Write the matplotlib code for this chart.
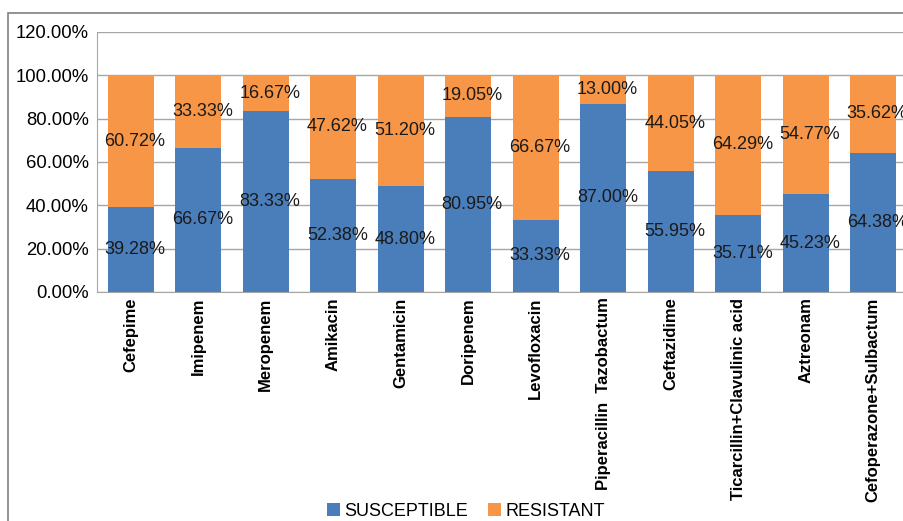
import numpy as np
import matplotlib
matplotlib.use('Agg')
from matplotlib import pyplot as plt
from matplotlib.patches import Rectangle

plt.rcParams['font.family'] = ['Liberation Sans', 'DejaVu Sans']

drugs = ['Cefepime', 'Imipenem', 'Meropenem', 'Amikacin', 'Gentamicin',
         'Doripenem', 'Levofloxacin', 'Piperacillin  Tazobactum', 'Ceftazidime',
         'Ticarcillin+Clavulinic acid', 'Aztreonam', 'Cefoperazone+Sulbactum']
susceptible = [39.28, 66.67, 83.33, 52.38, 48.80, 80.95, 33.33, 87.00, 55.95, 35.71, 45.23, 64.38]
resistant = [60.72, 33.33, 16.67, 47.62, 51.20, 19.05, 66.67, 13.00, 44.05, 64.29, 54.77, 35.62]

blue = '#4a7ebb'
orange = '#f79646'

W, H = 904, 521
fig = plt.figure(figsize=(W/100, H/100), dpi=100)

# outer chart border (runs off the right and bottom)
fig.patches.append(Rectangle((8/W, -0.1), 1.2, 1 - 13/H + 0.1, transform=fig.transFigure,
                             fill=False, edgecolor='#808080', linewidth=1.2))

ax = fig.add_axes([97/W, 1 - 292/H, 810/W, 260/H])
x = np.arange(len(drugs))
b1 = ax.bar(x, susceptible, width=0.68, color=blue, label='SUSCEPTIBLE', zorder=3)
b2 = ax.bar(x, resistant, width=0.68, bottom=susceptible, color=orange, label='RESISTANT', zorder=3)

for i in range(len(drugs)):
    ax.text(x[i] + 0.06, susceptible[i] / 2, '%.2f%%' % susceptible[i],
            ha='center', va='center', fontsize=13, color='#1a1a1a', zorder=4)
    ax.text(x[i] + 0.06, susceptible[i] + resistant[i] / 2, '%.2f%%' % resistant[i],
            ha='center', va='center', fontsize=13, color='#1a1a1a', zorder=4)

ax.set_xlim(-0.5, len(drugs) - 0.5)
ax.set_ylim(0, 120)
ax.set_yticks(np.arange(0, 121, 20))
ax.set_yticklabels(['%.2f%%' % v for v in np.arange(0, 121, 20)], fontsize=13.3)
ax.yaxis.grid(True, color='#a6a6a6', linewidth=1, zorder=0)
ax.set_xticks(x)
ax.set_xticklabels(drugs, rotation=90, fontsize=12, fontweight='bold', va='top')
ax.tick_params(axis='x', length=0, pad=4)
ax.tick_params(axis='y', length=0, pad=6)
for s in ['top', 'right']:
    ax.spines[s].set_visible(False)
for s in ['left', 'bottom']:
    ax.spines[s].set_color('#a6a6a6')

fig.legend(handles=[b1, b2], loc='center', bbox_to_anchor=(466/W, 1 - 511/H), ncol=2,
           frameon=False, fontsize=13, handlelength=0.7, handleheight=0.7,
           handletextpad=0.25, columnspacing=1.1)

fig.savefig('out.png', dpi=100)
